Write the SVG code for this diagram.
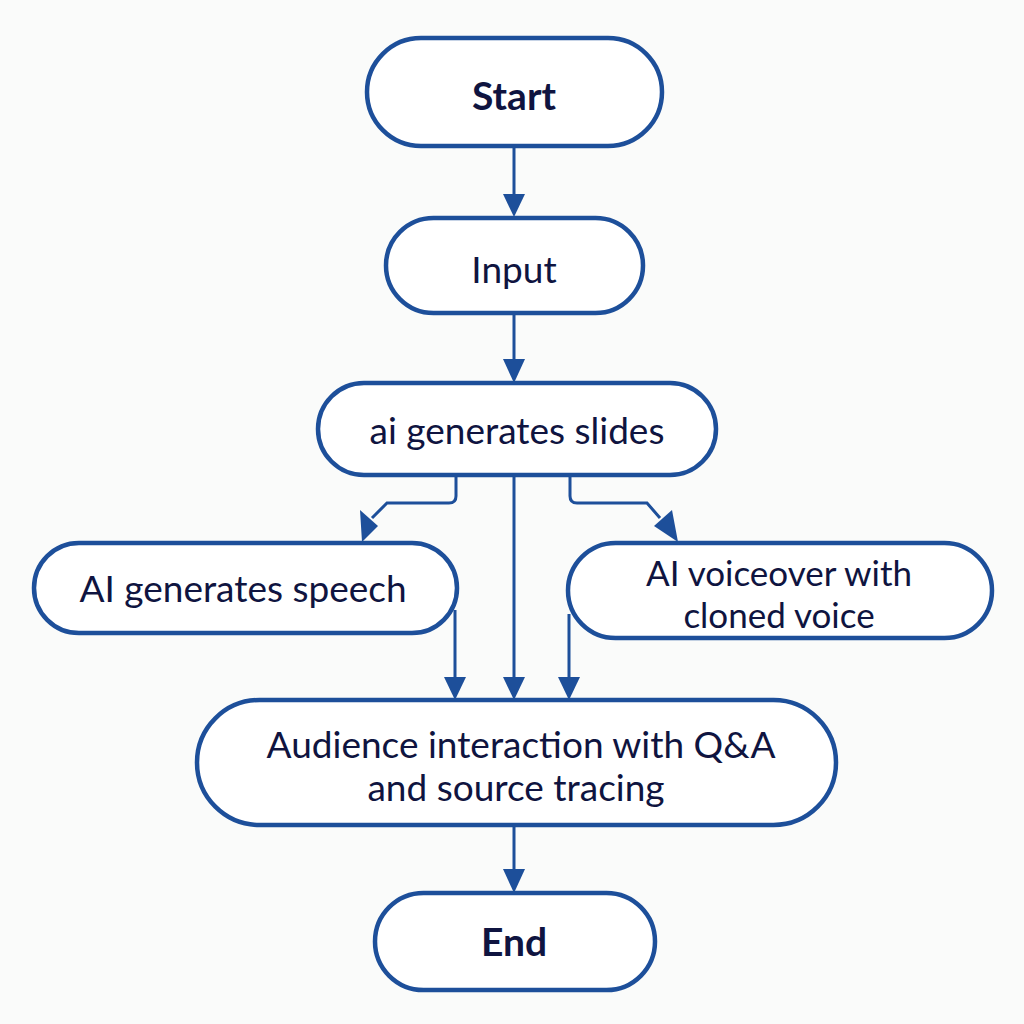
<svg xmlns="http://www.w3.org/2000/svg" width="1024" height="1024" viewBox="0 0 1024 1024">
<style>
.n{fill:#ffffff;stroke:#1d4f9a;stroke-width:4.5}
.t{font-family:Lato,"Open Sans",sans-serif;font-size:37px;fill:#0f1440;text-anchor:middle;dominant-baseline:central}
.s{font-size:35px}
.b{font-weight:bold;font-size:39px}
.c{fill:none;stroke:#1d4f9a;stroke-width:3}
</style>
<rect width="1024" height="1024" fill="#fafbfa"/>
<g id="connectors">
<path class="c" d="M514,146 V197"/><path d="M503,194 L525,194 L514,217 Z" fill="#1d4f9a"/>
<path class="c" d="M514,313 V362"/><path d="M503,359 L525,359 L514,383 Z" fill="#1d4f9a"/>
<path class="c" d="M456,475 V496 Q456,503 449,503 H387 L372,518"/><path d="M360,510 L378,526 L362,542 Z" fill="#1d4f9a"/>
<path class="c" d="M570,475 V496 Q570,503 577,503 H647 L660,518"/><path d="M654,526 L672,510 L678,542 Z" fill="#1d4f9a"/>
<path class="c" d="M514,475 V680"/><path d="M503,677 L525,677 L514,700 Z" fill="#1d4f9a"/>
<path class="c" d="M455,610 V680"/><path d="M444,677 L466,677 L455,700 Z" fill="#1d4f9a"/>
<path class="c" d="M569,614 V680"/><path d="M558,677 L580,677 L569,700 Z" fill="#1d4f9a"/>
<path class="c" d="M514,825 V872"/><path d="M503,869 L525,869 L514,893 Z" fill="#1d4f9a"/>
</g>
<g id="start"><rect class="n" x="367" y="38" width="295" height="108" rx="54"/><text class="t b" x="514" y="95">Start</text></g>
<g id="input"><rect class="n" x="386" y="218" width="257" height="95" rx="47.5"/><text class="t" x="514" y="268">Input</text></g>
<g id="slides"><rect class="n" x="318" y="383" width="398" height="92" rx="46"/><text class="t" x="517" y="429">ai generates slides</text></g>
<g id="speech"><rect class="n" x="34" y="543" width="423" height="90" rx="45"/><text class="t" x="243" y="587">AI generates speech</text></g>
<g id="voiceover"><rect class="n" x="568" y="543" width="424" height="95" rx="47.5"/><text class="t s" x="779" y="572">AI voiceover with</text><text class="t s" x="779" y="614">cloned voice</text></g>
<g id="audience"><rect class="n" x="197" y="700" width="639" height="125" rx="62.5"/><text class="t" x="521" y="743">Audience interaction with Q&amp;A</text><text class="t" x="516" y="786">and source tracing</text></g>
<g id="end"><rect class="n" x="375" y="893" width="280" height="97" rx="48.5"/><text class="t b" x="514" y="941">End</text></g>
</svg>
